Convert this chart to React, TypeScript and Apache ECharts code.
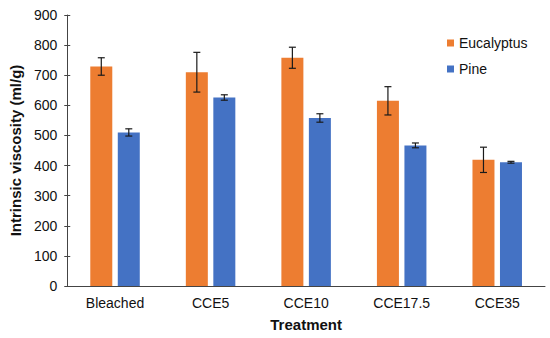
import React, { useEffect, useRef } from "react";
import * as echarts from "echarts";

const categories = ["Bleached", "CCE5", "CCE10", "CCE17.5", "CCE35"];
const eucalyptus = [729, 710, 758, 615, 419];
const eucalyptusErr = [29, 66, 35, 47, 42];
const pine = [510, 626, 558, 467, 411];
const pineErr = [12, 9, 14, 8, 3];
const yTicks = [0, 100, 200, 300, 400, 500, 600, 700, 800, 900];

const FONT = "'Liberation Sans', Arial, sans-serif";

export default function App() {
  const ref = useRef<HTMLDivElement>(null);
  useEffect(() => {
    if (!ref.current) return;
    const chart = echarts.init(ref.current, null, { renderer: "svg" });
    const barWidth = 22;
    const gap = 5.5;
    const errSeries = (vals: number[], errs: number[], side: number, name: string) => ({
      type: "custom",
      name,
      data: vals.map((v, i) => [i, v - errs[i], v + errs[i]]),
      z: 10,
      silent: true,
      renderItem: (params: any, api: any) => {
        const idx = api.value(0);
        const lo = api.coord([idx, api.value(1)]);
        const hi = api.coord([idx, api.value(2)]);
        const x = lo[0] + side * (barWidth + gap) / 2;
        const cap = 3.5;
        const style = { stroke: "#1a1a1a", lineWidth: 1.2 };
        return {
          type: "group",
          children: [
            { type: "line", shape: { x1: x, y1: lo[1], x2: x, y2: hi[1] }, style },
            { type: "line", shape: { x1: x - cap, y1: lo[1], x2: x + cap, y2: lo[1] }, style },
            { type: "line", shape: { x1: x - cap, y1: hi[1], x2: x + cap, y2: hi[1] }, style },
          ],
        };
      },
    });
    const yMin = yTicks[0];
    const yMax = yTicks[yTicks.length - 1];
    chart.setOption({
      animation: false,
      textStyle: { fontFamily: FONT },
      grid: { left: 61, right: 5, top: 15, bottom: 52, containLabel: false },
      legend: {
        data: ["Eucalyptus", "Pine"],
        orient: "vertical",
        left: 442,
        top: 31,
        icon: "rect",
        itemWidth: 7,
        itemHeight: 7,
        itemGap: 12,
        textStyle: { fontSize: 14, color: "#111", fontFamily: FONT },
      },
      xAxis: {
        type: "category",
        data: categories,
        name: "Treatment",
        nameLocation: "middle",
        nameGap: 31,
        nameTextStyle: { fontSize: 15, fontWeight: "bold", color: "#111", fontFamily: FONT },
        axisLine: { lineStyle: { color: "#444", width: 1 } },
        axisTick: { show: false },
        axisLabel: { fontSize: 14, color: "#111", margin: 10, fontFamily: FONT },
      },
      yAxis: [
        {
          type: "value",
          min: yMin,
          max: yMax,
          interval: 100,
          name: "Intrinsic viscosity (ml/g)",
          nameLocation: "middle",
          nameGap: 41,
          nameTextStyle: { fontSize: 15, fontWeight: "bold", color: "#111", fontFamily: FONT },
          axisLine: { show: true, lineStyle: { color: "#444", width: 1 } },
          axisTick: { show: true, length: 3, inside: false, lineStyle: { color: "#444" } },
          splitLine: { show: false },
          axisLabel: { fontSize: 14, color: "#111", margin: 10, fontFamily: FONT },
        },
        {
          type: "value",
          position: "left",
          min: yMin,
          max: yMax,
          interval: 100,
          axisLine: { show: false },
          axisTick: { show: true, length: 3, inside: true, lineStyle: { color: "#444" } },
          axisLabel: { show: false },
          splitLine: { show: false },
        },
      ],
      series: [
        {
          type: "bar",
          name: "Eucalyptus",
          data: eucalyptus,
          barWidth,
          barGap: "25%",
          itemStyle: { color: "#ED7D31" },
        },
        {
          type: "bar",
          name: "Pine",
          data: pine,
          barWidth,
          barGap: "25%",
          itemStyle: { color: "#4472C4" },
        },
        errSeries(eucalyptus, eucalyptusErr, -1, "errE"),
        errSeries(pine, pineErr, 1, "errP"),
      ],
    });
    return () => chart.dispose();
  }, []);
  return (
    <div
      ref={ref}
      style={{ position: "fixed", left: 0, top: 0, width: 550, height: 338, background: "#fff" }}
    />
  );
}
